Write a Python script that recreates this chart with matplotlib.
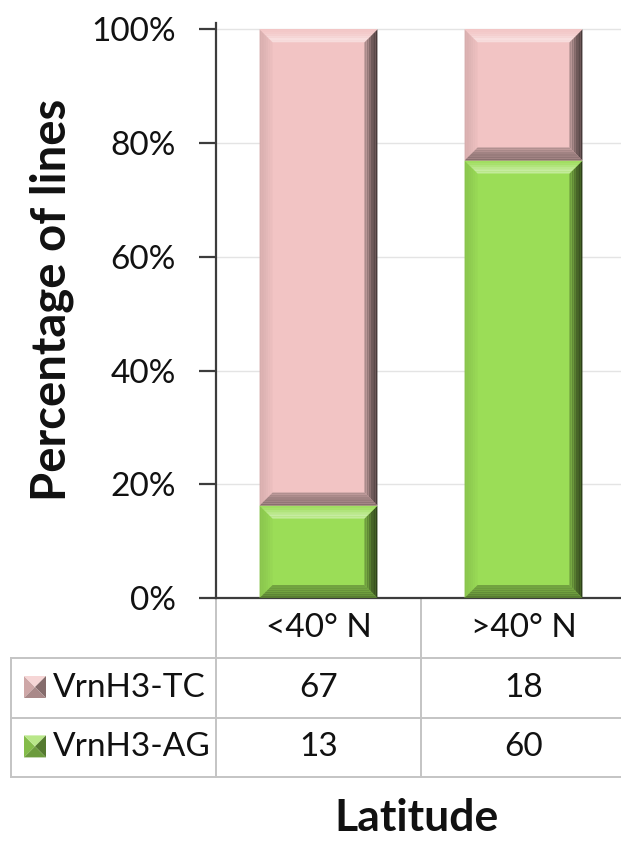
import numpy as np
import matplotlib
matplotlib.use('Agg')
import matplotlib.pyplot as plt
from matplotlib.patches import Polygon
from matplotlib.ticker import PercentFormatter

# line counts per latitude group
categories = ['<40° N', '>40° N']
series_names = ['VrnH3-TC', 'VrnH3-AG']
tc_counts = [67, 18]
ag_counts = [13, 60]

face_colors = {'VrnH3-TC': '#F2C4C4', 'VrnH3-AG': '#9BDD57'}

plt.rcParams['font.family'] = ['Lato', 'DejaVu Sans']

W, H = 621, 842
fig = plt.figure(figsize=(W / 100, H / 100), dpi=100)
ax_left, ax_bottom, ax_w, ax_h = 216, 598, 410, 575
ax = fig.add_axes([ax_left / W, 1 - ax_bottom / H, ax_w / W, ax_h / H])

tc = np.array(tc_counts, dtype=float)
ag = np.array(ag_counts, dtype=float)
total = tc + ag
ag_pct = ag / total
tc_pct = tc / total

x = np.arange(len(categories))
bar_w = 0.575
ymax = 1.011

bars_ag = ax.bar(x, ag_pct, width=bar_w, color=face_colors['VrnH3-AG'], zorder=2)
bars_tc = ax.bar(x, tc_pct, bottom=ag_pct, width=bar_w, color=face_colors['VrnH3-TC'], zorder=2)

ax.set_xlim(-0.5, 1.5)
ax.set_ylim(0, ymax)

# pixel -> data helpers
px_x = 1.0 / (ax_w / 2.0)        # data units per pixel along x
px_y = ymax / ax_h               # data units per pixel along y


def mix(c, other, t):
    c = np.array(matplotlib.colors.to_rgb(c))
    o = np.array(matplotlib.colors.to_rgb(other))
    return tuple(c * (1 - t) + o * t)


def band(x0, y0, x1, y1, bx, by, t0, t1, side, fc):
    # trapezoid strip of a bevel between fractions t0..t1 of its depth
    pts = []
    for t in (t0, t1):
        dx, dy = bx * t, by * t
        if side == 'top':
            pts.append([(x0 + dx, y1 - dy), (x1 - dx, y1 - dy)])
        elif side == 'bottom':
            pts.append([(x0 + dx, y0 + dy), (x1 - dx, y0 + dy)])
        elif side == 'left':
            pts.append([(x0 + dx, y0 + dy), (x0 + dx, y1 - dy)])
        else:
            pts.append([(x1 - dx, y0 + dy), (x1 - dx, y1 - dy)])
    poly = [pts[0][0], pts[0][1], pts[1][1], pts[1][0]]
    ax.add_patch(Polygon(poly, fc=fc, lw=0, zorder=3))


def bevel(rect, color):
    x0, y0 = rect.get_x(), rect.get_y()
    x1, y1 = x0 + rect.get_width(), y0 + rect.get_height()
    bx = 13 * px_x
    by = min(13 * px_y, rect.get_height() / 2.5)
    n = 6
    for k in range(n):
        t0, t1 = k / n, (k + 1) / n
        tm = (t0 + t1) / 2
        band(x0, y0, x1, y1, bx, by, t0, t1, 'left', mix(color, 'black', 0.10 * (1 - tm) + 0.02))
        band(x0, y0, x1, y1, bx, by, t0, t1, 'right', mix(color, 'black', 0.75 - 0.5 * tm))
        band(x0, y0, x1, y1, bx, by, t0, t1, 'bottom', mix(color, 'black', 0.45 - 0.2 * tm))
        band(x0, y0, x1, y1, bx, by, t0, t1, 'top',
             mix(color, 'white', 0.05 + 0.6 * tm ** 1.5) if tm < 0.85 else mix(color, 'white', 0.4))


for rect in bars_ag:
    bevel(rect, face_colors['VrnH3-AG'])
for rect in bars_tc:
    bevel(rect, face_colors['VrnH3-TC'])

# axes styling
ax.set_yticks(np.arange(0, 1.01, 0.2))
ax.yaxis.set_major_formatter(PercentFormatter(1.0, decimals=0))
ax.yaxis.grid(True, color='#e4e4e4', lw=1)
ax.set_axisbelow(True)
ax.set_xticks([])
for s in ['top', 'right']:
    ax.spines[s].set_visible(False)
for s in ['left', 'bottom']:
    ax.spines[s].set_color('#3c3c3c')
    ax.spines[s].set_linewidth(1.6)
ax.tick_params(axis='y', direction='out', length=12, width=1.6, color='#3c3c3c',
               labelsize=24, pad=17, labelcolor='#111111')

# data table under the plot
trans = ax.get_xaxis_transform()
row_h = 60 / ax_h
rows_y = [0, -row_h, -2 * row_h, -2.98 * row_h]
grid_kw = dict(color='#c4c4c4', lw=1.4, transform=trans, clip_on=False, zorder=1)
for xv in [-0.5, 0.5]:
    ax.plot([xv, xv], [0, rows_y[-1]], **grid_kw)
ax.plot([-1.5, -1.5], [rows_y[1], rows_y[-1]], **grid_kw)
for yv in rows_y[1:]:
    ax.plot([-1.5, 1.6], [yv, yv], **grid_kw)

txt_kw = dict(transform=trans, fontsize=24, color='#111111', va='center', clip_on=False)
for i, cat in enumerate(categories):
    ax.text(x[i], (rows_y[0] + rows_y[1]) / 2, cat, ha='center', **txt_kw)

table_vals = {'VrnH3-TC': tc_counts, 'VrnH3-AG': ag_counts}
for r, name in enumerate(series_names):
    yc = (rows_y[r + 1] + rows_y[r + 2]) / 2
    ax.text(-0.5 - 163 * px_x, yc, name, ha='left', **txt_kw)
    for i, v in enumerate(table_vals[name]):
        ax.text(x[i], yc, str(v), ha='center', **txt_kw)
    # legend key: small beveled square
    cx = -0.5 - 181 * px_x
    hx, hy = 11 * px_x, 11 / ax_h
    cy = yc + 1 / ax_h
    col = face_colors[name]
    corners = [(cx - hx, cy - hy), (cx - hx, cy + hy), (cx + hx, cy + hy), (cx + hx, cy - hy)]
    shades = [mix(col, 'black', 0.15), mix(col, 'white', 0.3),
              mix(col, 'black', 0.45), mix(col, 'black', 0.3)]
    for k in range(4):
        ax.add_patch(Polygon([corners[k], corners[(k + 1) % 4], (cx, cy)], fc=shades[k],
                             lw=0, transform=trans, clip_on=False))

ax.autoscale(False)

fig.text(52 / W, 1 - 300 / H, 'Percentage of lines', rotation=90, ha='center', va='center',
         fontsize=34, fontweight='bold', color='#111111')
fig.text(417 / W, 1 - 818 / H, 'Latitude', ha='center', va='center',
         fontsize=32, fontweight='bold', color='#111111')

fig.savefig('out.png', dpi=100, facecolor='white')
